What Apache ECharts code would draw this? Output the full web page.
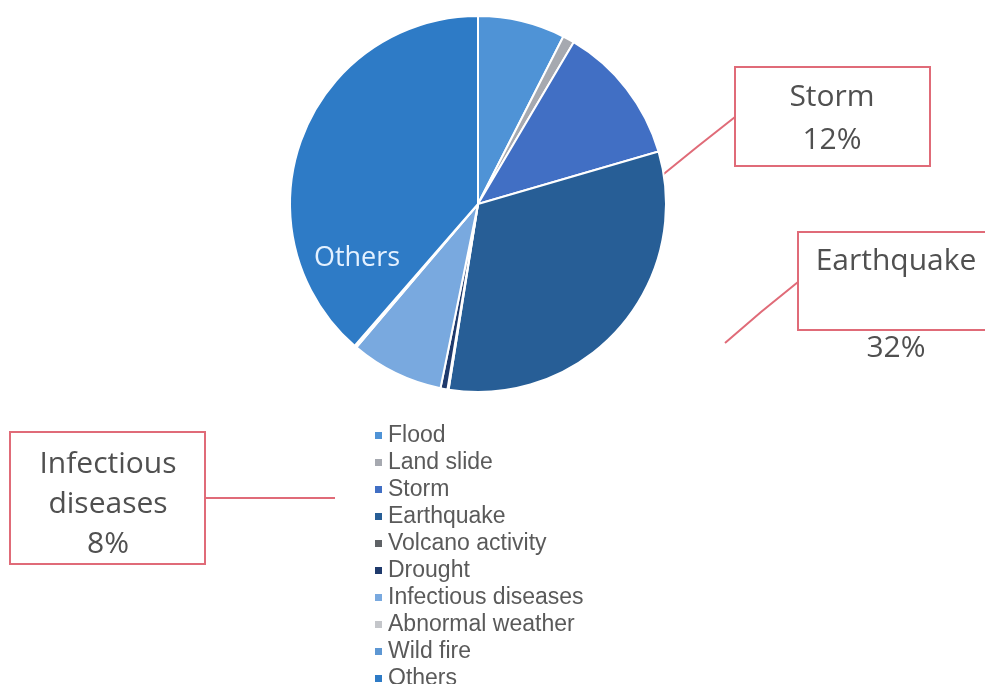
<!DOCTYPE html>
<html>
<head>
<meta charset="utf-8">
<title>Disaster types</title>
<script src="https://cdn.jsdelivr.net/npm/echarts@6/dist/echarts.min.js"></script>
<style>
  html, body { margin: 0; padding: 0; background: #fff; }
  #chart { width: 985px; height: 684px; }
</style>
</head>
<body>
<div id="chart"></div>
<script>
// Disaster categories and their share of events (%)
const categories = ['Flood', 'Land slide', 'Storm', 'Earthquake', 'Volcano activity',
  'Drought', 'Infectious diseases', 'Abnormal weather', 'Wild fire', 'Others'];
const shares = [7.5, 1, 12, 32, 0.1, 0.6, 8, 0.1, 0.1, 38.6];
const sliceColors = ['#4f93d6', '#a6a9b0', '#416fc4', '#275e96', '#5f6266',
  '#1f3a6c', '#79a9df', '#c4c6ca', '#5d97d3', '#2e7bc6'];

// Callout boxes and leader lines for the highlighted slices
const callouts = {
  'Storm':               { x: 832, y: 76,  lineHeight: 43,   box: [735, 67, 195, 99],  line: [[660, 177], [697, 147], [735, 117]] },
  'Earthquake':          { x: 896, y: 240, lineHeight: 43.5, box: [798, 232, 196, 98], line: [[725, 343], [761, 312], [798, 282]] },
  'Infectious diseases': { x: 108, y: 444, lineHeight: 40,   box: [10, 432, 195, 132], line: [[205, 498], [270, 498], [335, 498]] }
};
const insideName = { name: 'Others', x: 357, y: 258 };

const boxColor = '#e06b78';
const textFont = '"Open Sans", "Noto Sans", sans-serif';

const pieData = categories.map(function (name, i) {
  const item = { name: name, value: shares[i], itemStyle: { color: sliceColors[i] } };
  if (callouts[name]) {
    const c = callouts[name];
    item.label = {
      show: true, position: 'outside', color: '#505050', fontFamily: textFont,
      fontSize: 30, lineHeight: c.lineHeight, align: 'center'
    };
    item.labelLine = { show: true, lineStyle: { color: boxColor, width: 2 } };
  } else if (name === insideName.name) {
    item.label = {
      show: true, position: 'inside', color: '#e4f1ff', fontFamily: textFont,
      fontSize: 27, formatter: '{b}'
    };
    item.labelLine = { show: false };
  } else {
    item.label = { show: false };
    item.labelLine = { show: false };
  }
  return item;
});

const boxes = Object.keys(callouts).map(function (k) {
  const b = callouts[k].box;
  return {
    type: 'rect', z: 0,
    shape: { x: b[0], y: b[1], width: b[2], height: b[3] },
    style: { fill: '#fff', stroke: boxColor, lineWidth: 2 }
  };
});

const chart = echarts.init(document.getElementById('chart'), null, { renderer: 'canvas' });
chart.setOption({
  backgroundColor: '#fff',
  animation: false,
  graphic: boxes,
  legend: {
    orient: 'vertical',
    left: 373, top: 424, height: 320, padding: 0,
    icon: 'rect', itemWidth: 9, itemHeight: 9, itemGap: 4,
    textStyle: { fontFamily: '"Liberation Sans", Arial, sans-serif', fontSize: 23, color: '#5a5a5a' },
    data: categories
  },
  series: [{
    type: 'pie',
    center: [478, 204],
    radius: 188,
    startAngle: 90,
    clockwise: true,
    percentPrecision: 0,
    avoidLabelOverlap: false,
    itemStyle: { borderColor: '#fff', borderWidth: 2 },
    emphasis: { disabled: true },
    label: {
      formatter: function (p) {
        if (p.name === 'Earthquake') return p.name + '\n\n' + p.percent + '%';
        if (p.name === 'Infectious diseases') return p.name.replace(' ', '\n') + '\n' + p.percent + '%';
        if (p.name === 'Others') return p.name;
        return p.name + '\n' + p.percent + '%';
      }
    },
    labelLayout: function (p) {
      const name = categories[p.dataIndex];
      const c = callouts[name];
      if (c) {
        return { x: c.x, y: c.y, align: 'center', verticalAlign: 'top', labelLinePoints: c.line };
      }
      if (name === insideName.name) {
        return { x: insideName.x, y: insideName.y, align: 'center', verticalAlign: 'middle' };
      }
      return {};
    },
    data: pieData
  }]
});
</script>
</body>
</html>
